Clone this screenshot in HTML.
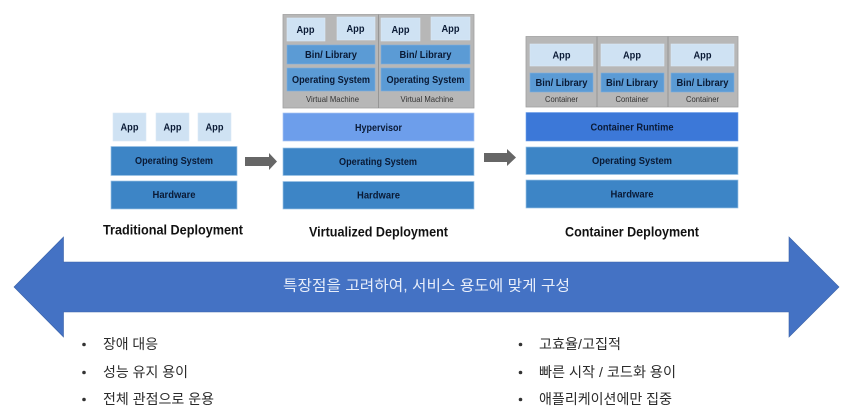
<!DOCTYPE html>
<html lang="ko">
<head>
<meta charset="utf-8">
<title>Deployment diagram</title>
<style>
html,body{margin:0;padding:0;background:#fff;width:853px;height:409px;overflow:hidden}
svg{display:block;filter:blur(.3px)}
text{font-family:"Liberation Sans","Noto Sans CJK KR",sans-serif}
.b{font-weight:700;fill:#0a1a35;text-anchor:middle;dominant-baseline:central;font-size:10.5px}
.t{font-weight:700;fill:#111;text-anchor:middle;dominant-baseline:central;font-size:13.5px}
.s{fill:#333;text-anchor:middle;dominant-baseline:central;font-size:8.5px}
.k{dominant-baseline:central;font-size:15px}
.d{fill:#2b2b2b;dominant-baseline:central;font-size:14px}
.app{fill:#cfe2f3;stroke:#dbe9f6;stroke-width:.6}
.bin{fill:#5b9bd5;stroke:#7fb0de;stroke-width:.6}
.os{fill:#3d85c6;stroke:#9cc3e6;stroke-width:.7}
.z{fill:#b7b7b7;stroke:#a0a0a0;stroke-width:.8}
</style>
</head>
<body>
<svg width="853" height="409" viewBox="0 0 853 409" xmlns="http://www.w3.org/2000/svg">

<!-- Traditional -->
<rect class="app" x="113" y="113" width="33" height="28"/>
<rect class="app" x="156" y="113" width="33" height="28"/>
<rect class="app" x="198" y="113" width="33" height="28"/>
<text class="b" x="129.500" y="127.500" textLength="18" lengthAdjust="spacingAndGlyphs">App</text>
<text class="b" x="172.500" y="127.500" textLength="18" lengthAdjust="spacingAndGlyphs">App</text>
<text class="b" x="214.500" y="127.500" textLength="18" lengthAdjust="spacingAndGlyphs">App</text>
<rect class="os" x="111" y="146.500" width="126" height="29"/>
<text class="b" x="174" y="161" textLength="78" lengthAdjust="spacingAndGlyphs">Operating System</text>
<rect class="os" x="111" y="181" width="126" height="28"/>
<text class="b" x="174" y="195" textLength="43" lengthAdjust="spacingAndGlyphs">Hardware</text>
<text class="t" x="173" y="230" textLength="140" lengthAdjust="spacingAndGlyphs">Traditional Deployment</text>

<!-- Arrow 1 -->
<polygon fill="#666" points="245,157 269,157 269,153 277,161.500 269,170 269,166 245,166"/>

<!-- Virtualized -->
<rect class="z" x="283" y="14.500" width="191" height="93.500"/>
<line x1="378.500" y1="14.500" x2="378.500" y2="108" stroke="#808080" stroke-width=".6"/>
<rect class="app" x="287" y="18" width="38" height="23"/>
<rect class="app" x="337" y="17" width="38" height="23"/>
<rect class="app" x="381" y="18" width="39" height="23"/>
<rect class="app" x="431" y="17" width="39" height="23"/>
<text class="b" x="305.500" y="30" textLength="18" lengthAdjust="spacingAndGlyphs">App</text>
<text class="b" x="355.500" y="29" textLength="18" lengthAdjust="spacingAndGlyphs">App</text>
<text class="b" x="400.500" y="30" textLength="18" lengthAdjust="spacingAndGlyphs">App</text>
<text class="b" x="450.500" y="29" textLength="18" lengthAdjust="spacingAndGlyphs">App</text>
<rect class="bin" x="287" y="45" width="88" height="19"/>
<rect class="bin" x="381" y="45" width="89" height="19"/>
<text class="b" x="331" y="55" textLength="52" lengthAdjust="spacingAndGlyphs">Bin/ Library</text>
<text class="b" x="425.500" y="55" textLength="52" lengthAdjust="spacingAndGlyphs">Bin/ Library</text>
<rect class="bin" x="287" y="68" width="88" height="23"/>
<rect class="bin" x="381" y="68" width="89" height="23"/>
<text class="b" x="331" y="80" textLength="78" lengthAdjust="spacingAndGlyphs">Operating System</text>
<text class="b" x="425.500" y="80" textLength="78" lengthAdjust="spacingAndGlyphs">Operating System</text>
<text class="s" x="332.500" y="99" textLength="53" lengthAdjust="spacingAndGlyphs">Virtual Machine</text>
<text class="s" x="427" y="99" textLength="53" lengthAdjust="spacingAndGlyphs">Virtual Machine</text>
<rect x="283" y="113" width="191" height="28" fill="#6d9eeb" stroke="#a8c4f2" stroke-width=".7"/>
<text class="b" x="378.500" y="128" textLength="47" lengthAdjust="spacingAndGlyphs">Hypervisor</text>
<rect class="os" x="283" y="148" width="191" height="27.500"/>
<text class="b" x="378" y="162" textLength="78" lengthAdjust="spacingAndGlyphs">Operating System</text>
<rect class="os" x="283" y="181.500" width="191" height="27.500"/>
<text class="b" x="378.500" y="195.500" textLength="43" lengthAdjust="spacingAndGlyphs">Hardware</text>
<text class="t" x="378.500" y="232" textLength="139" lengthAdjust="spacingAndGlyphs">Virtualized Deployment</text>

<!-- Arrow 2 -->
<polygon fill="#666" points="484,153 507,153 507,149 516,157.500 507,166 507,162 484,162"/>

<!-- Container -->
<rect class="z" x="526" y="36.500" width="212" height="70.500"/>
<line x1="597" y1="36.500" x2="597" y2="107" stroke="#808080" stroke-width=".6"/>
<line x1="668" y1="36.500" x2="668" y2="107" stroke="#808080" stroke-width=".6"/>
<rect class="app" x="530" y="44" width="63" height="22"/>
<rect class="app" x="601" y="44" width="63" height="22"/>
<rect class="app" x="671" y="44" width="63" height="22"/>
<text class="b" x="561.500" y="55.500" textLength="18" lengthAdjust="spacingAndGlyphs">App</text>
<text class="b" x="632" y="55.500" textLength="18" lengthAdjust="spacingAndGlyphs">App</text>
<text class="b" x="702.500" y="55.500" textLength="18" lengthAdjust="spacingAndGlyphs">App</text>
<rect class="bin" x="530" y="73" width="63" height="19"/>
<rect class="bin" x="601" y="73" width="63" height="19"/>
<rect class="bin" x="671" y="73" width="63" height="19"/>
<text class="b" x="561.500" y="83" textLength="52" lengthAdjust="spacingAndGlyphs">Bin/ Library</text>
<text class="b" x="632" y="83" textLength="52" lengthAdjust="spacingAndGlyphs">Bin/ Library</text>
<text class="b" x="702.500" y="83" textLength="52" lengthAdjust="spacingAndGlyphs">Bin/ Library</text>
<text class="s" x="561.500" y="99" textLength="33" lengthAdjust="spacingAndGlyphs">Container</text>
<text class="s" x="632" y="99" textLength="33" lengthAdjust="spacingAndGlyphs">Container</text>
<text class="s" x="702.500" y="99" textLength="33" lengthAdjust="spacingAndGlyphs">Container</text>
<rect x="526" y="112.500" width="212" height="28.500" fill="#3c78d8" stroke="#6d9eeb" stroke-width=".6"/>
<text class="b" x="632" y="127.500" textLength="83" lengthAdjust="spacingAndGlyphs">Container Runtime</text>
<rect class="os" x="526" y="147" width="212" height="27.500"/>
<text class="b" x="632" y="161" textLength="80" lengthAdjust="spacingAndGlyphs">Operating System</text>
<rect class="os" x="526" y="180" width="212" height="28"/>
<text class="b" x="632" y="194.500" textLength="43" lengthAdjust="spacingAndGlyphs">Hardware</text>
<text class="t" x="632" y="232" textLength="134" lengthAdjust="spacingAndGlyphs">Container Deployment</text>

<!-- Big double arrow -->
<polygon fill="#4472c4" stroke="#3a62a8" stroke-width=".6" points="14,287 63.500,237 63.500,262 789,262 789,237 839,287 789,337 789,312 63.500,312 63.500,337"/>
<text class="k" x="283" y="286" style="fill:#e8eefa" textLength="287" lengthAdjust="spacingAndGlyphs">특장점을 고려하여, 서비스 용도에 맞게 구성</text>

<!-- Lists -->
<circle cx="84" cy="344.500" r="1.800" fill="#333"/>
<circle cx="84" cy="372.500" r="1.800" fill="#333"/>
<circle cx="84" cy="399.500" r="1.800" fill="#333"/>
<text class="d" x="103" y="344" textLength="55" lengthAdjust="spacingAndGlyphs">장애 대응</text>
<text class="d" x="103" y="372" textLength="85" lengthAdjust="spacingAndGlyphs">성능 유지 용이</text>
<text class="d" x="103" y="399" textLength="111" lengthAdjust="spacingAndGlyphs">전체 관점으로 운용</text>

<circle cx="520.500" cy="344.500" r="1.800" fill="#333"/>
<circle cx="520.500" cy="372.500" r="1.800" fill="#333"/>
<circle cx="520.500" cy="399.500" r="1.800" fill="#333"/>
<text class="d" x="539" y="344" textLength="82" lengthAdjust="spacingAndGlyphs">고효율/고집적</text>
<text class="d" x="539" y="372" textLength="137" lengthAdjust="spacingAndGlyphs">빠른 시작 / 코드화 용이</text>
<text class="d" x="539" y="399" textLength="133" lengthAdjust="spacingAndGlyphs">애플리케이션에만 집중</text>
</svg>
</body>
</html>
